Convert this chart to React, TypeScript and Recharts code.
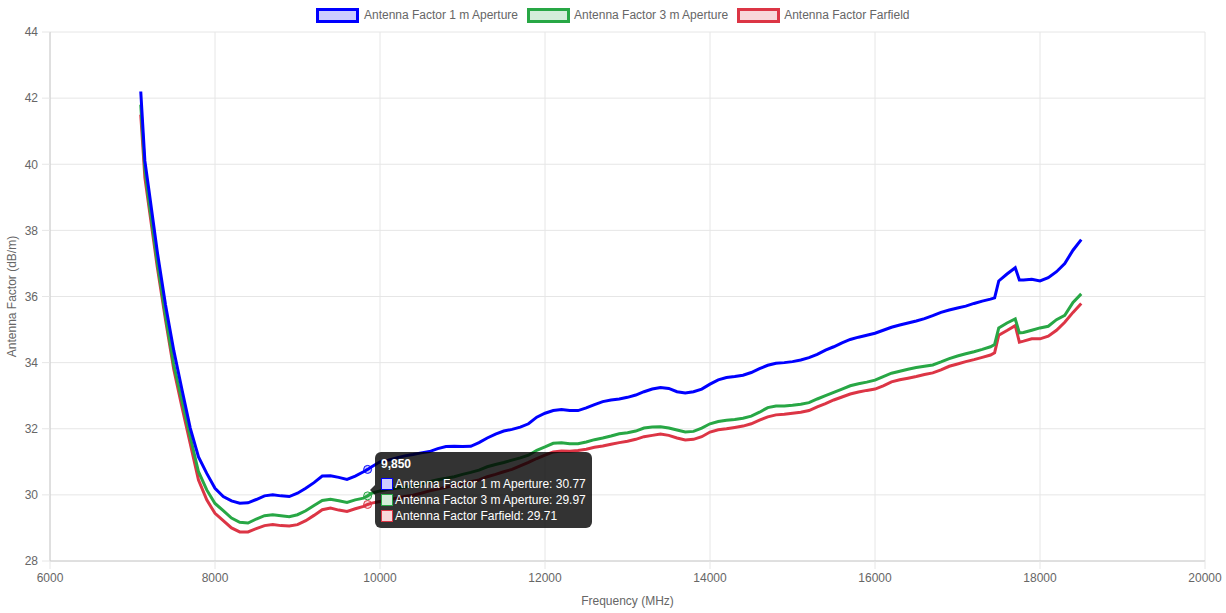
import React from 'react';
import { LineChart, Line, XAxis, YAxis, CartesianGrid, Tooltip } from 'recharts';

// Frequency (MHz)
const frequencies = [
  7100, 7150, 7200, 7300, 7400, 7500, 7600, 7700, 7800, 7900,
  8000, 8100, 8200, 8300, 8400, 8500, 8600, 8700, 8800, 8900,
  9000, 9100, 9200, 9300, 9400, 9500, 9600, 9700, 9800, 9850, 9900,
  10000, 10100, 10200, 10300, 10400, 10500, 10600, 10700, 10800, 10900,
  11000, 11100, 11200, 11300, 11400, 11500, 11600, 11700, 11800, 11900,
  12000, 12100, 12200, 12300, 12400, 12500, 12600, 12700, 12800, 12900,
  13000, 13100, 13200, 13300, 13400, 13500, 13600, 13700, 13800, 13900,
  14000, 14100, 14200, 14300, 14400, 14500, 14600, 14700, 14800, 14900,
  15000, 15100, 15200, 15300, 15400, 15500, 15600, 15700, 15800, 15900,
  16000, 16100, 16200, 16300, 16400, 16500, 16600, 16700, 16800, 16900,
  17000, 17100, 17200, 17300, 17400, 17450, 17500, 17600, 17700, 17750, 17800, 17900,
  18000, 18100, 18200, 18300, 18400, 18500,
];

const af1m = [
  42.2, 40.1, 39.2, 37.36, 35.75, 34.37, 33.18, 32.02, 31.15, 30.65,
  30.2, 29.95, 29.82, 29.75, 29.76, 29.86, 29.97, 30.0, 29.97, 29.95,
  30.05, 30.2, 30.37, 30.57, 30.58, 30.53, 30.47, 30.57, 30.7, 30.77, 30.85,
  31.0, 31.05, 31.12, 31.18, 31.22, 31.27, 31.31, 31.4, 31.46, 31.47,
  31.46, 31.47, 31.58, 31.72, 31.84, 31.93, 31.98, 32.05, 32.15, 32.35,
  32.47, 32.55, 32.58, 32.55, 32.55, 32.63, 32.73, 32.82, 32.87, 32.9,
  32.95, 33.02, 33.12, 33.2, 33.25, 33.22, 33.12, 33.08, 33.12, 33.2,
  33.35, 33.48, 33.55, 33.58, 33.62, 33.7, 33.82, 33.92, 33.98, 34.0,
  34.03, 34.08, 34.15, 34.25, 34.38, 34.48, 34.6, 34.7, 34.77, 34.83,
  34.89, 34.98, 35.07, 35.14, 35.2, 35.26, 35.33, 35.42, 35.52, 35.59,
  35.65, 35.71, 35.79, 35.86, 35.92, 35.96, 36.47, 36.68, 36.87, 36.5, 36.5, 36.52,
  36.47, 36.57, 36.75, 37.0, 37.4, 37.72,
];

const af3m = [
  41.8, 39.85, 38.86, 37.05, 35.42, 33.94, 32.84, 31.75, 30.7, 30.15,
  29.74, 29.52, 29.3, 29.17, 29.15, 29.27, 29.37, 29.4, 29.37, 29.34,
  29.4, 29.52, 29.68, 29.83, 29.87, 29.82, 29.77, 29.85, 29.9, 29.97, 30.05,
  30.12, 30.17, 30.2, 30.24, 30.28, 30.33, 30.4, 30.46, 30.5, 30.55,
  30.62, 30.68, 30.75, 30.85, 30.92, 30.98, 31.05, 31.12, 31.2, 31.35,
  31.45, 31.56, 31.58, 31.55, 31.55, 31.6, 31.67, 31.72, 31.78, 31.85,
  31.88, 31.93, 32.02, 32.05, 32.06, 32.02, 31.96, 31.9, 31.92, 32.02,
  32.15, 32.22, 32.26, 32.28, 32.32, 32.38, 32.5, 32.64, 32.69, 32.69,
  32.71, 32.74, 32.79, 32.9, 33.0, 33.1, 33.2, 33.3, 33.36, 33.41,
  33.47, 33.58, 33.68, 33.74, 33.8, 33.85, 33.89, 33.93, 34.02, 34.12,
  34.2, 34.27, 34.33, 34.4, 34.48, 34.55, 35.05, 35.2, 35.32, 34.9, 34.91, 34.98,
  35.05, 35.1, 35.3, 35.43, 35.82, 36.08,
];

const afFarfield = [
  41.5, 39.6, 38.7, 36.9, 35.3, 33.8, 32.65, 31.55, 30.45, 29.85,
  29.44, 29.22, 29.0, 28.88, 28.88, 28.98, 29.07, 29.1, 29.07, 29.06,
  29.1, 29.22, 29.38, 29.55, 29.6, 29.54, 29.5, 29.58, 29.65, 29.71, 29.75,
  29.8, 29.85, 29.9, 29.95, 29.99, 30.05, 30.12, 30.18, 30.23, 30.28,
  30.34, 30.4, 30.45, 30.55, 30.62, 30.7, 30.77, 30.88, 30.98, 31.1,
  31.2, 31.3, 31.33, 31.32, 31.34, 31.38, 31.44, 31.48, 31.53, 31.58,
  31.62, 31.68, 31.76, 31.8, 31.84, 31.8, 31.72, 31.66, 31.68, 31.76,
  31.9, 31.97, 32.0, 32.04, 32.08, 32.15, 32.26, 32.36, 32.42, 32.44,
  32.47, 32.5, 32.55, 32.66, 32.76, 32.87, 32.96, 33.05, 33.11, 33.16,
  33.2, 33.3, 33.42, 33.48, 33.53, 33.58, 33.64, 33.69, 33.78, 33.89,
  33.96, 34.03, 34.09, 34.16, 34.23, 34.3, 34.83, 34.97, 35.12, 34.62, 34.65, 34.72,
  34.72, 34.8, 34.98, 35.22, 35.52, 35.79,
];

const xTicks = [6000, 8000, 10000, 12000, 14000, 16000, 18000, 20000];
const yTicks = [28, 30, 32, 34, 36, 38, 40, 42, 44];

const series = [
  { key: 'af1m', name: 'Antenna Factor 1 m Aperture', color: '#0000ff', fill: 'rgba(0,0,255,0.2)', box: '#ccccff' },
  { key: 'af3m', name: 'Antenna Factor 3 m Aperture', color: '#28a745', fill: 'rgba(40,167,69,0.2)', box: '#d4edda' },
  { key: 'afFarfield', name: 'Antenna Factor Farfield', color: '#dc3545', fill: 'rgba(220,53,69,0.2)', box: '#f8d7da' },
];

const data = frequencies.map((f, i) => ({
  freq: f,
  af1m: af1m[i],
  af3m: af3m[i],
  afFarfield: afFarfield[i],
}));

const tooltipIndex = frequencies.indexOf(9850);

const FONT = '"Liberation Sans", Arial, Helvetica, sans-serif';

function ChartTooltip(props: any) {
  const { active, payload, label } = props;
  if (!active || !payload || !payload.length) return null;
  const byKey: Record<string, number> = {};
  payload.forEach((p: any) => {
    byKey[p.dataKey] = p.value;
  });
  return (
    <div
      style={{
        position: 'relative',
        background: 'rgba(0,0,0,0.8)',
        borderRadius: 6,
        padding: 6,
        color: '#fff',
        fontFamily: FONT,
        fontSize: 12,
        whiteSpace: 'nowrap',
      }}
    >
      <div
        style={{
          position: 'absolute',
          left: -5,
          top: 33,
          width: 0,
          height: 0,
          borderTop: '5px solid transparent',
          borderBottom: '5px solid transparent',
          borderRight: '5px solid rgba(0,0,0,0.8)',
        }}
      />
      <div style={{ fontWeight: 'bold', lineHeight: '12px', height: 12, marginBottom: 8 }}>
        {Number(label).toLocaleString('en-US')}
      </div>
      {series.map((s, i) => (
        <div
          key={s.key}
          style={{ display: 'flex', alignItems: 'center', height: 12, lineHeight: '12px', marginTop: i ? 4 : 0 }}
        >
          <span
            style={{
              display: 'inline-block',
              width: 12,
              height: 12,
              boxSizing: 'border-box',
              border: `1px solid ${s.color}`,
              background: s.box,
              marginRight: 2,
            }}
          />
          <span>
            {s.name}: {byKey[s.key] !== undefined ? byKey[s.key].toFixed(2) : ''}
          </span>
        </div>
      ))}
    </div>
  );
}

function TopLegend() {
  return (
    <div
      style={{
        position: 'absolute',
        left: 0,
        top: 7,
        width: 1226,
        height: 16,
        display: 'flex',
        justifyContent: 'center',
        alignItems: 'center',
        fontFamily: FONT,
        fontSize: 12,
        color: '#666',
        zIndex: 2,
      }}
    >
      {series.map((s, i) => (
        <div key={s.key} style={{ display: 'flex', alignItems: 'center', marginLeft: i ? 8.5 : 0 }}>
          <span
            style={{
              display: 'inline-block',
              width: 43,
              height: 15,
              boxSizing: 'border-box',
              border: `3px solid ${s.color}`,
              background: s.box,
            }}
          />
          <span style={{ marginLeft: 4.5 }}>{s.name}</span>
        </div>
      ))}
    </div>
  );
}

export default function App() {
  return (
    <div
      style={{
        position: 'absolute',
        left: 0,
        top: 0,
        width: 1226,
        height: 613,
        background: '#fff',
        fontFamily: FONT,
      }}
    >
      <TopLegend />
      <LineChart
        width={1226}
        height={613}
        data={data}
        margin={{ top: 32, right: 21, left: 0, bottom: 0 }}
        style={{ fontFamily: FONT }}
      >
        <CartesianGrid stroke="#e6e6e6" strokeWidth={1} />
        <XAxis
          dataKey="freq"
          type="number"
          domain={[6000, 20000]}
          ticks={xTicks}
          interval={0}
          height={52}
          tickSize={8}
          tickMargin={4}
          axisLine={{ stroke: '#cccccc' }}
          tickLine={{ stroke: '#e6e6e6' }}
          tick={{ fill: '#666', fontSize: 12 }}
          allowDataOverflow
          label={{ value: 'Frequency (MHz)', position: 'insideBottom', offset: 8, fill: '#666', fontSize: 12 }}
        />
        <YAxis
          type="number"
          domain={[28, 44]}
          ticks={yTicks}
          interval={0}
          width={50}
          tickSize={8}
          tickMargin={4}
          axisLine={{ stroke: '#cccccc' }}
          tickLine={{ stroke: '#e6e6e6' }}
          tick={{ fill: '#666', fontSize: 12 }}
          allowDataOverflow
          label={{
            value: 'Antenna Factor (dB/m)',
            angle: -90,
            position: 'insideLeft',
            offset: 12,
            fill: '#666',
            fontSize: 12,
            style: { textAnchor: 'middle' },
          }}
        />
        <Tooltip
          active
          defaultIndex={tooltipIndex}
          position={{ x: 375, y: 452 }}
          cursor={false}
          content={<ChartTooltip />}
          isAnimationActive={false}
          wrapperStyle={{ outline: 'none', zIndex: 3 }}
        />
        {[...series].reverse().map((s) => (
          <Line
            key={s.key}
            type="linear"
            dataKey={s.key}
            name={s.name}
            stroke={s.color}
            strokeWidth={3}
            dot={false}
            activeDot={{ r: 4, fill: s.fill, stroke: s.color, strokeWidth: 1 }}
            isAnimationActive={false}
          />
        ))}
      </LineChart>
    </div>
  );
}
